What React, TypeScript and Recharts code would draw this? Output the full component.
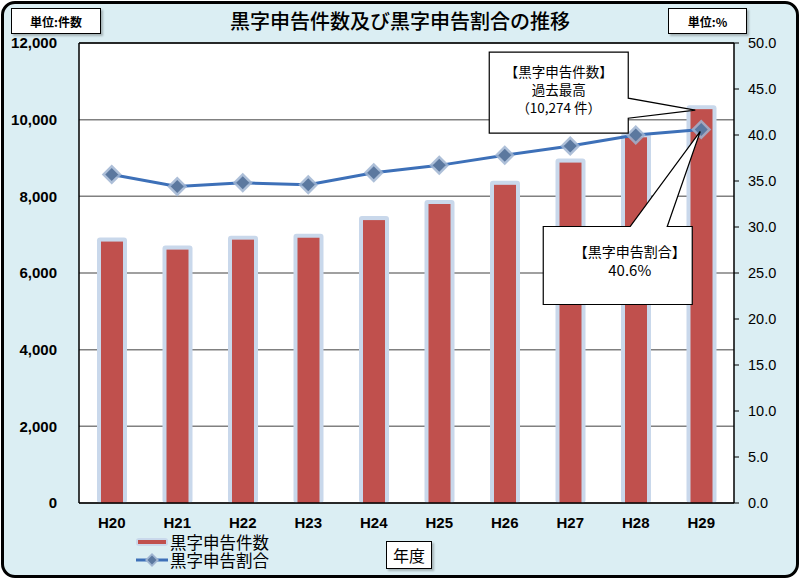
import React from "react"
import {
  Bar,
  CartesianGrid,
  ComposedChart,
  Line,
  ReferenceDot,
  ReferenceLine,
  XAxis,
  YAxis,
} from "recharts"

const years = ["H20", "H21", "H22", "H23", "H24", "H25", "H26", "H27", "H28", "H29"]
const counts = [6820, 6610, 6870, 6920, 7380, 7800, 8300, 8880, 9540, 10274]
const ratios = [35.7, 34.4, 34.8, 34.6, 35.9, 36.7, 37.8, 38.8, 40.0, 40.6]
const countTicks = [0, 2000, 4000, 6000, 8000, 10000, 12000]
const ratioTicks = [0, 5, 10, 15, 20, 25, 30, 35, 40, 45, 50]

const countLabel = "黒字申告件数"
const ratioLabel = "黒字申告割合"

const data = years.map((year, i) => ({ year, count: counts[i], ratio: ratios[i] }))
const last = data.length - 1

const jp = '"Noto Sans CJK JP", "Noto Sans CJK SC", sans-serif'
const num = '"Liberation Sans", Arial, sans-serif'
const RED = "#C0504D"
const BLUE = "#3D70B8"

const BarShape = (props: any) => {
  const { x, y, width, height } = props
  if (height <= 0) return null
  return (
    <g>
      <rect x={x - 4} y={y - 4} width={width + 8} height={height + 4} rx={3} fill="#C9D8EB" />
      <rect x={x} y={y} width={width} height={height} fill={RED} />
    </g>
  )
}

const Diamond = (props: any) => {
  const { cx, cy } = props
  if (cx == null || cy == null) return null
  const d = (r: number) => `M${cx} ${cy - r} L${cx + r} ${cy} L${cx} ${cy + r} L${cx - r} ${cy} Z`
  return (
    <g>
      <path d={d(10)} fill="#9FB4D1" fillOpacity={0.85} />
      <path d={d(6.5)} fill="#5B789F" />
    </g>
  )
}

// callout for the record count, anchored on the H29 bar top
const CountCallout = (props: any) => {
  const { cx, cy } = props
  const l = cx - 212
  const r = cx - 73
  const t = cy - 57
  const b = cy + 24
  const pts = [
    [l, t], [r, t], [r, cy - 11], [cx - 6, cy + 1], [r, cy + 9], [r, b], [l, b],
  ].map((p) => p.join(",")).join(" ")
  const mid = (l + r) / 2
  return (
    <g>
      <polygon points={pts} fill="#fff" stroke="#000" strokeWidth={1.2} />
      <text x={mid} y={t + 25} textAnchor="middle" fontFamily={jp} fontSize={13.5}>
        {`【${countLabel}】`}
      </text>
      <text x={mid} y={t + 43} textAnchor="middle" fontFamily={jp} fontSize={13.5}>
        過去最高
      </text>
      <text x={mid} y={t + 61} textAnchor="middle" fontFamily={jp} fontSize={13.5}>
        {`（${counts[last].toLocaleString("en-US")} 件）`}
      </text>
    </g>
  )
}

// callout for the ratio, anchored on the H29 marker
const RatioCallout = (props: any) => {
  const { cx, cy } = props
  const l = cx - 158
  const r = cx - 9
  const t = cy + 97
  const b = cy + 175
  const pts = [
    [l, t], [cx - 71, t], [cx - 1, cy + 2], [cx - 34, t], [r, t], [r, b], [l, b],
  ].map((p) => p.join(",")).join(" ")
  const mid = (l + r) / 2 + 12
  return (
    <g>
      <polygon points={pts} fill="#fff" stroke="#000" strokeWidth={1.2} />
      <text x={mid} y={t + 31} textAnchor="middle" fontFamily={jp} fontSize={14}>
        {`【${ratioLabel}】`}
      </text>
      <text x={mid} y={t + 50} textAnchor="middle" fontFamily={jp} fontSize={15}>
        {`${ratios[last].toFixed(1)}%`}
      </text>
    </g>
  )
}

const LegendBox = () => (
  <div
    style={{
      position: "absolute",
      left: 134,
      top: 533,
      fontFamily: jp,
      fontSize: 16.5,
      lineHeight: "18px",
      color: "#000",
    }}
  >
    <div style={{ display: "flex", alignItems: "center", height: 18 }}>
      <svg width={36} height={18}>
        <rect x={2} y={5} width={32} height={8} rx={3} fill="#C9D8EB" />
        <rect x={4} y={7} width={28} height={4} fill={RED} />
      </svg>
      <span>{countLabel}</span>
    </div>
    <div style={{ display: "flex", alignItems: "center", height: 18 }}>
      <svg width={36} height={18}>
        <line x1={2} y1={9} x2={34} y2={9} stroke={BLUE} strokeWidth={3} />
        <path d="M18 2 L25 9 L18 16 L11 9 Z" fill="#9FB4D1" />
        <path d="M18 4.5 L22.5 9 L18 13.5 L13.5 9 Z" fill="#5B789F" />
      </svg>
      <span>{ratioLabel}</span>
    </div>
  </div>
)

const boxStyle: React.CSSProperties = {
  position: "absolute",
  background: "#fff",
  border: "1px solid #000",
  boxShadow: "2px 2px 2px rgba(0,0,0,0.25)",
  fontFamily: jp,
  display: "flex",
  alignItems: "center",
  justifyContent: "center",
}

export default function App() {
  return (
    <div style={{ position: "absolute", left: 0, top: 0, width: 800, height: 579 }}>
      <div
        style={{
          position: "absolute",
          left: 1,
          top: 1,
          width: 792,
          height: 571,
          border: "3px solid #000",
          borderRadius: 14,
          background: "#DBEEF3",
        }}
      />
      <div
        style={{
          position: "absolute",
          left: 0,
          width: 800,
          top: 6,
          textAlign: "center",
          fontFamily: jp,
          fontSize: 20,
          fontWeight: 500,
          color: "#000",
        }}
      >
        黒字申告件数及び黒字申告割合の推移
      </div>
      <div style={{ ...boxStyle, left: 11, top: 8, width: 88, height: 24, fontSize: 12, fontWeight: 600 }}>
        単位:件数
      </div>
      <div style={{ ...boxStyle, left: 668, top: 8, width: 77, height: 24, fontSize: 12, fontWeight: 600 }}>
        単位:%
      </div>
      <div style={{ position: "absolute", left: 0, top: 0 }}>
        <ComposedChart
          width={800}
          height={579}
          data={data}
          margin={{ top: 43, right: 0, bottom: 46, left: 0 }}
          barSize={22}
        >
          <CartesianGrid
            yAxisId="left"
            vertical={false}
            fill="#fff"
            fillOpacity={1}
            stroke="#808080"
            strokeWidth={1.5}
          />
          <XAxis
            dataKey="year"
            height={30}
            axisLine={{ stroke: "#000", strokeWidth: 1.5 }}
            tickLine={false}
            tickMargin={8}
            tick={{ fontFamily: num, fontSize: 15, fontWeight: 700, fill: "#000" }}
          />
          <YAxis
            yAxisId="left"
            width={79}
            domain={[0, 12000]}
            ticks={countTicks}
            interval={0}
            axisLine={{ stroke: "#000", strokeWidth: 1.5 }}
            tickLine={false}
            tickMargin={16}
            tickFormatter={(v: number) => v.toLocaleString("en-US")}
            tick={{ fontFamily: num, fontSize: 15, fontWeight: 700, fill: "#000" }}
          />
          <YAxis
            yAxisId="right"
            orientation="right"
            width={66}
            domain={[0, 50]}
            ticks={ratioTicks}
            interval={0}
            axisLine={{ stroke: "#000", strokeWidth: 1.5 }}
            tickLine={{ stroke: "#000" }}
            tickSize={5}
            tickMargin={9}
            tickFormatter={(v: number) => v.toFixed(1)}
            tick={{ fontFamily: num, fontSize: 14.5, fill: "#000" }}
          />
          <ReferenceLine yAxisId="left" y={12000} stroke="#000" strokeWidth={1.5} />
          <Bar
            yAxisId="left"
            dataKey="count"
            name={countLabel}
            fill={RED}
            shape={BarShape}
            isAnimationActive={false}
          />
          <Line
            yAxisId="right"
            type="linear"
            dataKey="ratio"
            name={ratioLabel}
            stroke={BLUE}
            strokeWidth={3}
            dot={Diamond}
            activeDot={false}
            isAnimationActive={false}
          />
          <ReferenceDot
            yAxisId="left"
            x={years[last]}
            y={counts[last]}
            shape={CountCallout}
          />
          <ReferenceDot
            yAxisId="right"
            x={years[last]}
            y={ratios[last]}
            shape={RatioCallout}
          />
        </ComposedChart>
      </div>
      <LegendBox />
      <div style={{ ...boxStyle, left: 386, top: 541, width: 44, height: 26, fontSize: 16 }}>
        年度
      </div>
    </div>
  )
}
